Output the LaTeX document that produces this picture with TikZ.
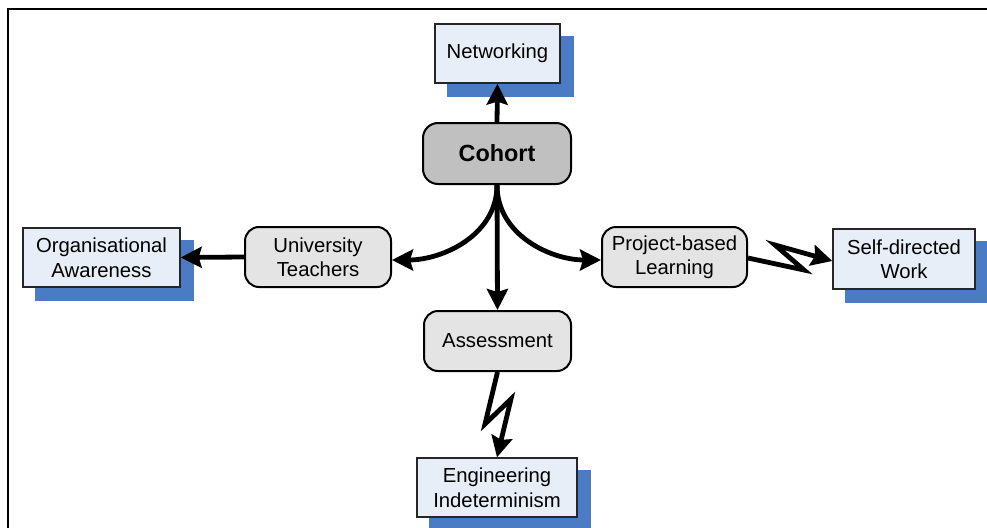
\documentclass[tikz,border=0pt]{standalone}
\usepackage{fontspec}
\setmainfont{Liberation Sans}
\usetikzlibrary{arrows.meta,backgrounds}
\definecolor{shadowblue}{HTML}{4A7BC3}
\definecolor{boxfill}{HTML}{E8EEF8}
\definecolor{roundfill}{HTML}{E4E4E4}
\definecolor{cohortfill}{HTML}{C0C0C0}
\tikzset{
  sqbox/.style={draw=black!85, line width=1.3pt, fill=boxfill, inner sep=0pt, align=center,
    font=\fontsize{20.3}{24.5}\selectfont},
  rbox/.style={draw=black, line width=2pt, fill=roundfill, rounded corners=14pt, inner sep=0pt, align=center,
    font=\fontsize{20.3}{24.5}\selectfont},
  conn/.style={line width=4.8pt, -{Stealth[length=21pt,width=21pt,inset=3pt]}, line join=miter},
  shadowrect/.style={fill=shadowblue},
}
\begin{document}
\begin{tikzpicture}[x=1pt,y=-1pt]
\useasboundingbox (0,0) rectangle (987,527);
\draw[line width=2pt] (8,530) -- (8,9) -- (990,9);

\node[sqbox, minimum width=125pt, minimum height=59pt] (net) at (497.5,53.5) {Networking};
\node[rbox, fill=cohortfill, rounded corners=15pt, minimum width=148pt, minimum height=61pt,
  font=\fontsize{23.4}{26}\selectfont\bfseries] (cohort) at (497,153.5) {Cohort};
\node[rbox, minimum width=146pt, minimum height=60pt] (ut) at (318,257) {University\\Teachers};
\node[sqbox, minimum width=157pt, minimum height=59pt] (oa) at (101.5,257.5) {Organisational\\Awareness};
\node[rbox, minimum width=145pt, minimum height=60pt] (pbl) at (674.5,257) {Project-based\\Learning};
\node[sqbox, minimum width=142pt, minimum height=60pt] (sdw) at (904,259) {Self-directed\\Work};
\node[rbox, minimum width=147pt, minimum height=60pt] (as) at (497.5,341) {Assessment};
\node[sqbox, minimum width=160pt, minimum height=59pt] (ei) at (497,487.5) {Engineering\\Indeterminism};

\begin{scope}[on background layer]
  \foreach \n in {net,oa,sdw,ei}{
    \fill[shadowrect] ([shift={(13,13)}]\n.north west) rectangle ([shift={(13,13)}]\n.south east);
  }
\end{scope}

\coordinate (z1) at (804,270);
\coordinate (z2) at (775,245);
\coordinate (y1) at (485,424);
\coordinate (y2) at (511,399);

\draw[conn] (cohort.north) -- (net.south);
\draw[conn] (cohort.south) -- (as.north);
\draw[conn] (cohort.south) to[out=-90,in=0] ([yshift=-3pt]ut.east);
\draw[conn] (cohort.south) to[out=-90,in=180] ([yshift=-3pt]pbl.west);
\draw[conn] (ut.west) -- (oa.east);
\draw[conn] ([yshift=-1pt]pbl.east) -- (z1) -- (z2) -- ([yshift=-2pt]sdw.west);
\draw[conn] (as.south) -- (y1) -- (y2) -- (ei.north);
\end{tikzpicture}
\end{document}
